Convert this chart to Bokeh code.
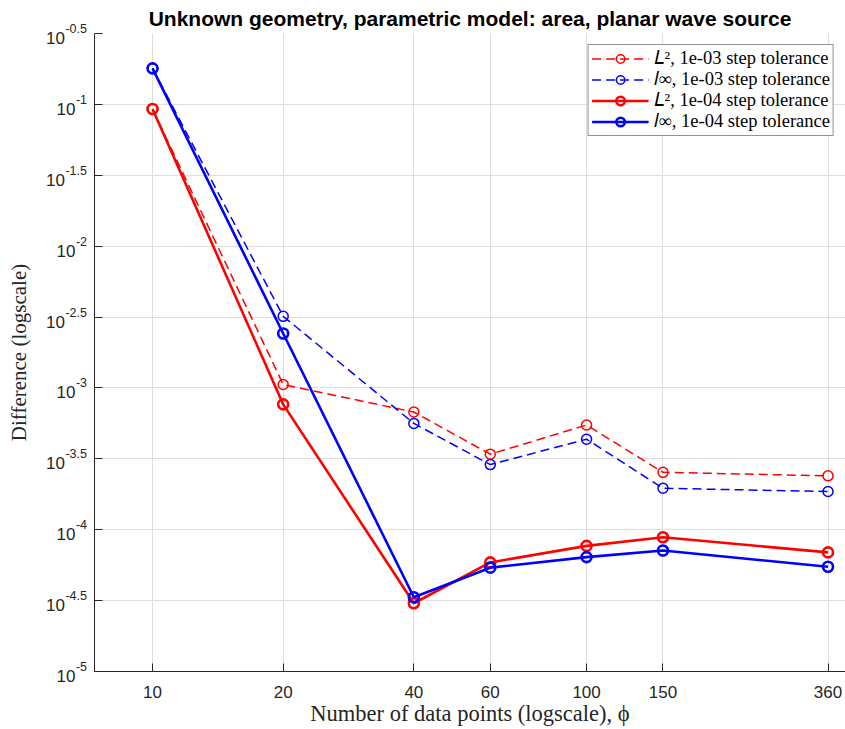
import math
from bokeh.plotting import figure
from bokeh.core.properties import value
from bokeh.models import (FixedTicker, Legend, LegendItem, Range1d,
                          CustomJSTickFormatter, NumeralTickFormatter)
from bokeh.embed import file_html
from bokeh.resources import INLINE

# ---------------- data ----------------
n_points = [10, 20, 40, 60, 100, 150, 360]
l2_tol_1e3 = [0.0927, 1.057e-3, 6.76e-4, 3.41e-4, 5.48e-4, 2.54e-4, 2.40e-4]
linf_tol_1e3 = [0.1795, 3.20e-3, 5.62e-4, 2.88e-4, 4.35e-4, 1.96e-4, 1.86e-4]
l2_tol_1e4 = [0.0927, 7.66e-4, 3.03e-5, 5.88e-5, 7.69e-5, 8.85e-5, 6.92e-5]
linf_tol_1e4 = [0.1795, 2.42e-3, 3.34e-5, 5.40e-5, 6.41e-5, 7.13e-5, 5.48e-5]

x_ticks = [10, 20, 40, 60, 100, 150, 360]
y_tick_exponents = [-5, -4.5, -4, -3.5, -3, -2.5, -2, -1.5, -1, -0.5]

series_labels = [
    "𝐿², 1e-03 step tolerance",
    "𝑙∞, 1e-03 step tolerance",
    "𝐿², 1e-04 step tolerance",
    "𝑙∞, 1e-04 step tolerance",
]
title_text = "Unknown geometry, parametric model: area, planar wave source"
x_label = "Number of data points (logscale), ϕ"
y_label = "Difference (logscale)"

X_MIN, X_MAX = 7.35, 395
Y_MIN_EXP, Y_MAX_EXP = -5.0, -0.5

RED = "#ff0000"
BLUE = "#0000ff"
AXIS_COLOR = "#262626"
GRID_COLOR = "#dedede"
SANS = "Liberation Sans"
SERIF = "Liberation Serif"

FRAME_LEFT, FRAME_TOP = 94, 33

p = figure(width=845, height=729, x_axis_type="log", y_axis_type="log",
           x_range=Range1d(X_MIN, X_MAX),
           y_range=Range1d(10 ** Y_MIN_EXP, 10 ** Y_MAX_EXP),
           output_backend="svg", toolbar_location=None,
           min_border_left=FRAME_LEFT, min_border_right=0,
           min_border_top=FRAME_TOP, min_border_bottom=58)

p.outline_line_color = None
p.background_fill_color = "white"
p.border_fill_color = "white"

# x axis
xt = FixedTicker(ticks=x_ticks, minor_ticks=[])
p.xaxis.ticker = xt
p.xgrid.ticker = xt
p.xaxis.formatter = NumeralTickFormatter(format="0")
p.xaxis.major_label_text_font = SANS
p.xaxis.major_label_text_font_size = "17px"
p.xaxis.major_label_text_color = AXIS_COLOR
p.xaxis.major_label_standoff = 14
p.xaxis.axis_label = x_label
p.xaxis.axis_label_text_font = SERIF
p.xaxis.axis_label_text_font_size = "22.5px"
p.xaxis.axis_label_text_font_style = "normal"
p.xaxis.axis_label_text_color = AXIS_COLOR
p.xaxis.axis_label_standoff = 0

# y axis: tick labels drawn as 10^e text below
y_ticks = [10 ** e for e in y_tick_exponents]
yt = FixedTicker(ticks=y_ticks, minor_ticks=[])
p.yaxis.ticker = yt
p.ygrid.ticker = yt
p.yaxis.formatter = CustomJSTickFormatter(code="return ''")
p.yaxis.major_label_standoff = 0

for ax in (p.xaxis, p.yaxis):
    ax.axis_line_color = AXIS_COLOR
    ax.axis_line_width = 1
    ax.major_tick_line_color = AXIS_COLOR
    ax.major_tick_in = 8
    ax.major_tick_out = 0
    ax.minor_tick_line_color = None

for g in (p.xgrid, p.ygrid):
    g.grid_line_color = GRID_COLOR
    g.grid_line_width = 1

# series
specs = [
    (l2_tol_1e3, RED, "dashed", 1.5),
    (linf_tol_1e3, BLUE, "dashed", 1.5),
    (l2_tol_1e4, RED, "solid", 2.6),
    (linf_tol_1e4, BLUE, "solid", 2.6),
]
items = []
for (vals, col, dash, lw), lab in zip(specs, series_labels):
    ld = "9 5" if dash == "dashed" else "solid"
    r1 = p.line(n_points, vals, line_color=col, line_width=lw, line_dash=ld)
    r2 = p.scatter(n_points, vals, marker="circle", size=10, fill_color=None,
                   line_color=col, line_width=lw)
    items.append(LegendItem(label=lab, renderers=[r1, r2]))

legend = Legend(items=items, location="top_right", margin=11, padding=3,
                spacing=0, label_height=21, glyph_height=21, glyph_width=57,
                label_standoff=5, label_text_font=SERIF,
                label_text_font_size="18.5px", label_text_color="black",
                border_line_color=AXIS_COLOR, border_line_width=1,
                background_fill_color="white", background_fill_alpha=1)
p.add_layout(legend)

# y tick labels "10" + raised exponent, right-aligned left of the axis
EXP_SIZE = 12.5
char_w = {"-": 0.333, ".": 0.278}
exp_txt, base_off = [], []
for e in y_tick_exponents:
    t = f"{e:g}"
    ew = sum(char_w.get(c, 0.556) for c in t) * EXP_SIZE
    exp_txt.append(t)
    base_off.append(-7.5 - ew - 0.5)

n = len(y_ticks)
p.text(x=[X_MIN] * n, y=y_ticks, text=exp_txt, text_align="right",
       text_baseline="middle", x_offset=-7.5, y_offset=-5,
       text_font=value(SANS), text_font_size=value(f"{EXP_SIZE}px"),
       text_color=AXIS_COLOR, level="overlay")
p.text(x=[X_MIN] * n, y=y_ticks, text=["10"] * n,
       text_align="right", text_baseline="middle", x_offset=base_off,
       y_offset=4.5, text_font=value(SANS), text_font_size=value("17px"),
       text_color=AXIS_COLOR, level="overlay")

# y axis label (rotated), left of the tick labels
y_mid = 10 ** ((Y_MIN_EXP + Y_MAX_EXP) / 2)
p.text(x=[X_MIN], y=[y_mid], text=[y_label], angle=math.pi / 2,
       text_align="center", text_baseline="middle",
       x_offset=-(FRAME_LEFT - 18.5), text_font=value(SERIF),
       text_font_size=value("21px"), text_color=AXIS_COLOR, level="overlay")

# title, centred over the plot frame
x_mid = math.sqrt(X_MIN * X_MAX)
p.text(x=[x_mid], y=[10 ** Y_MAX_EXP], text=[title_text],
       text_align="center", text_baseline="alphabetic",
       y_offset=-(FRAME_TOP - 17.5), text_font=value(SANS),
       text_font_size=value("21px"), text_font_style="bold",
       text_color="black", level="overlay")

open("out.html", "w").write(file_html(p, INLINE))
